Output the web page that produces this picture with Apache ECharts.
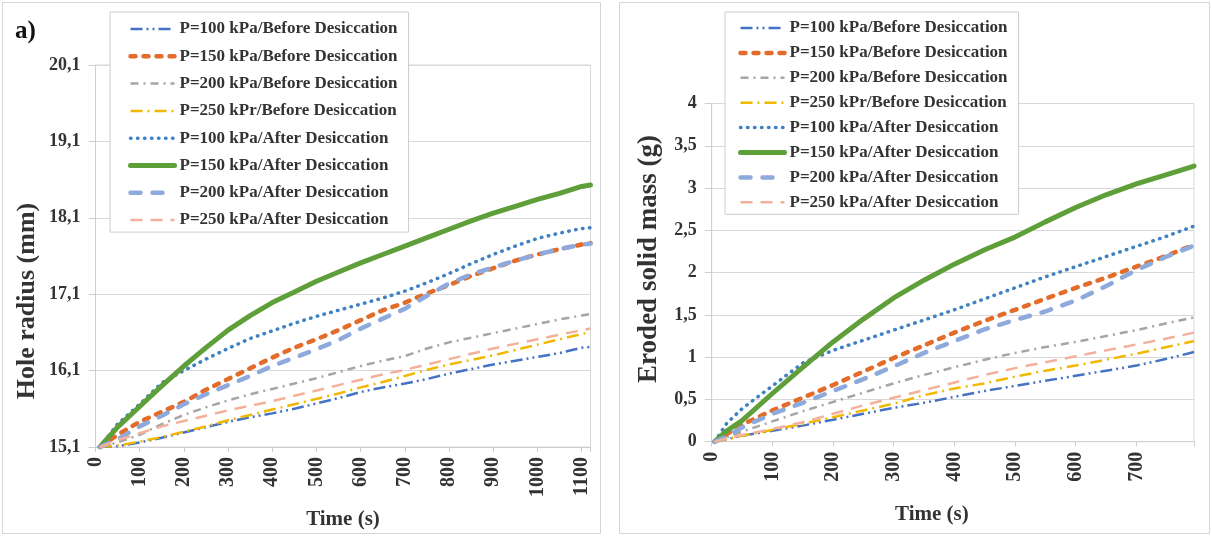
<!DOCTYPE html>
<html>
<head>
<meta charset="utf-8">
<script src="https://cdn.jsdelivr.net/npm/echarts@6/dist/echarts.min.js"></script>
<style>
  html, body { margin: 0; padding: 0; background: #fff; }
  #wrap { position: relative; width: 1212px; height: 536px; }
  #radiusChart { position: absolute; left: 0; top: 0; width: 606px; height: 536px; }
  #massChart { position: absolute; left: 606px; top: 0; width: 606px; height: 536px; }
</style>
</head>
<body>
<div id="wrap">
  <div id="radiusChart"></div>
  <div id="massChart"></div>
</div>
<script>
// ---- Series names (shared by both panels) ----
const seriesNames = [
  'P=100 kPa/Before Desiccation',
  'P=150 kPa/Before Desiccation',
  'P=200 kPa/Before Desiccation',
  'P=250 kPr/Before Desiccation',
  'P=100 kPa/After Desiccation',
  'P=150 kPa/After Desiccation',
  'P=200 kPa/After Desiccation',
  'P=250 kPa/After Desiccation'
];

// ---- a) Hole radius (mm) versus time (s) ----
const radiusTime = [10, 50, 100, 150, 200, 250, 300, 350, 400, 450, 500, 550, 600, 650, 700, 750, 800, 850, 900, 950, 1000, 1050, 1100, 1120];
const radius100Before = [15.10, 15.11, 15.16, 15.22, 15.29, 15.36, 15.43, 15.49, 15.54, 15.60, 15.67, 15.74, 15.82, 15.88, 15.93, 15.99, 16.06, 16.12, 16.18, 16.23, 16.28, 16.33, 16.40, 16.41];
const radius150Before = [15.10, 15.26, 15.43, 15.56, 15.69, 15.85, 15.99, 16.13, 16.27, 16.40, 16.51, 16.63, 16.76, 16.89, 16.99, 17.11, 17.22, 17.34, 17.44, 17.54, 17.62, 17.69, 17.75, 17.77];
const radius200Before = [15.10, 15.16, 15.26, 15.40, 15.52, 15.62, 15.71, 15.79, 15.86, 15.93, 16.00, 16.08, 16.16, 16.23, 16.29, 16.39, 16.47, 16.53, 16.59, 16.65, 16.71, 16.77, 16.82, 16.84];
const radius250Before = [15.10, 15.12, 15.17, 15.23, 15.30, 15.37, 15.45, 15.52, 15.59, 15.66, 15.73, 15.80, 15.88, 15.95, 16.03, 16.11, 16.18, 16.24, 16.30, 16.37, 16.44, 16.51, 16.58, 16.60];
const radius100After  = [15.10, 15.40, 15.66, 15.94, 16.10, 16.25, 16.39, 16.52, 16.62, 16.72, 16.81, 16.89, 16.97, 17.05, 17.14, 17.25, 17.37, 17.50, 17.62, 17.73, 17.83, 17.90, 17.96, 17.97];
const radius150After  = [15.10, 15.36, 15.63, 15.90, 16.16, 16.40, 16.63, 16.82, 16.99, 17.13, 17.27, 17.39, 17.51, 17.62, 17.73, 17.84, 17.95, 18.06, 18.16, 18.25, 18.34, 18.42, 18.51, 18.53];
const radius200After  = [15.10, 15.20, 15.37, 15.51, 15.66, 15.79, 15.91, 16.03, 16.16, 16.27, 16.38, 16.50, 16.65, 16.78, 16.91, 17.08, 17.24, 17.36, 17.45, 17.54, 17.62, 17.69, 17.75, 17.76];
const radius250After  = [15.10, 15.19, 15.28, 15.37, 15.44, 15.51, 15.58, 15.64, 15.70, 15.77, 15.84, 15.91, 15.98, 16.05, 16.11, 16.18, 16.25, 16.32, 16.39, 16.45, 16.51, 16.57, 16.63, 16.65];

// ---- b) Eroded solid mass (g) versus time (s) ----
const massTime = [5, 25, 50, 100, 150, 200, 250, 300, 350, 400, 450, 500, 550, 600, 650, 700, 750, 795];
const mass100Before = [0, 0.03, 0.07, 0.13, 0.19, 0.26, 0.33, 0.40, 0.46, 0.53, 0.60, 0.66, 0.72, 0.78, 0.84, 0.90, 0.98, 1.06];
const mass150Before = [0, 0.09, 0.20, 0.37, 0.52, 0.67, 0.83, 0.99, 1.14, 1.29, 1.43, 1.56, 1.69, 1.82, 1.94, 2.07, 2.20, 2.33];
const mass200Before = [0, 0.05, 0.12, 0.24, 0.36, 0.47, 0.58, 0.69, 0.79, 0.88, 0.97, 1.05, 1.12, 1.18, 1.25, 1.32, 1.40, 1.47];
const mass250Before = [0, 0.03, 0.07, 0.14, 0.21, 0.29, 0.37, 0.45, 0.55, 0.63, 0.69, 0.77, 0.84, 0.90, 0.97, 1.04, 1.12, 1.19];
const mass100After  = [0, 0.22, 0.39, 0.66, 0.93, 1.08, 1.20, 1.32, 1.44, 1.56, 1.69, 1.82, 1.95, 2.07, 2.19, 2.31, 2.43, 2.55];
const mass150After  = [0, 0.13, 0.25, 0.57, 0.88, 1.18, 1.45, 1.70, 1.91, 2.10, 2.27, 2.42, 2.60, 2.77, 2.92, 3.05, 3.16, 3.26];
const mass200After  = [0, 0.06, 0.17, 0.33, 0.46, 0.60, 0.74, 0.89, 1.05, 1.19, 1.33, 1.44, 1.54, 1.67, 1.84, 2.03, 2.19, 2.32];
const mass250After  = [0, 0.04, 0.08, 0.15, 0.23, 0.33, 0.43, 0.52, 0.61, 0.70, 0.79, 0.87, 0.94, 1.01, 1.08, 1.15, 1.22, 1.29];

// ---- Axis ranges ----
const radiusAxisMin = 15.1, radiusAxisMax = 20.1, radiusAxisStep = 1;
const radiusTimeMax = 1120, massTimeMax = 795, timeStep = 100;
const massAxisMin = 0, massAxisMax = 4, massAxisStep = 0.5;

const radiusSets = [radius100Before, radius150Before, radius200Before, radius250Before,
                    radius100After, radius150After, radius200After, radius250After];
const massSets = [mass100Before, mass150Before, mass200Before, mass250Before,
                  mass100After, mass150After, mass200After, mass250After];

// ---- Line styles, one per series ----
const lineStyles = [
  { color: '#4472C4', width: 2.5, type: [12, 4, 2, 4, 2, 4], cap: 'butt' },
  { color: '#E36C2A', width: 4.5, type: [5, 8], cap: 'round' },
  { color: '#A5A5A5', width: 2.5, type: [8, 5, 2, 5], cap: 'butt' },
  { color: '#F2B800', width: 2.5, type: [12, 5, 2, 5], cap: 'butt' },
  { color: '#3E82C4', width: 3.5, type: [0.5, 6.5], cap: 'round' },
  { color: '#5E9F3A', width: 5, type: 'solid', cap: 'round' },
  { color: '#8EA9DB', width: 4.5, type: [10, 12], cap: 'round' },
  { color: '#F4B09A', width: 2.5, type: [12, 8], cap: 'butt' }
];

const FONT = "'Liberation Serif', 'Times New Roman', serif";
const TEXT = '#333333';
const AXIS_GREY = '#cfcfcf';
const GRID_GREY = '#d9d9d9';

function commaDecimal(v) {
  return String(Math.round(v * 10) / 10).replace('.', ',');
}

function buildSeries(times, sets) {
  return sets.map((vals, i) => ({
    name: seriesNames[i],
    type: 'line',
    symbol: 'none',
    showSymbol: false,
    animation: false,
    data: times.map((t, k) => [t, vals[k]]),
    itemStyle: { color: lineStyles[i].color },
    lineStyle: {
      color: lineStyles[i].color,
      width: lineStyles[i].width,
      type: lineStyles[i].type,
      cap: lineStyles[i].cap,
      join: 'round'
    }
  }));
}

function buildOption(cfg) {
  return {
    animation: false,
    backgroundColor: '#ffffff',
    grid: {
      left: cfg.grid.left, top: cfg.grid.top, width: cfg.grid.width, height: cfg.grid.height,
      show: true, borderColor: GRID_GREY, borderWidth: 1, backgroundColor: 'transparent'
    },
    legend: {
      orient: 'vertical',
      left: cfg.legend.left, top: cfg.legend.top,
      padding: cfg.legend.padding,
      itemGap: cfg.legend.itemGap,
      itemWidth: 44, itemHeight: 14,
      backgroundColor: '#ffffff',
      borderColor: '#cccccc', borderWidth: 1,
      selectedMode: false,
      data: seriesNames,
      // legend keys show only the line sample, no marker
      itemStyle: { color: 'rgba(0,0,0,0)', borderColor: 'rgba(0,0,0,0)', borderWidth: 0, opacity: 0 },
      lineStyle: { width: 'inherit' },
      textStyle: { fontFamily: FONT, fontWeight: 'bold', fontSize: 17, color: TEXT, lineHeight: 20 }
    },
    xAxis: {
      type: 'value',
      min: 0, max: cfg.xMax, interval: timeStep,
      name: 'Time (s)', nameLocation: 'middle', nameGap: 62,
      nameTextStyle: { fontFamily: FONT, fontWeight: 'bold', fontSize: 21, color: TEXT, padding: cfg.xNamePad },
      axisLine: { show: true, lineStyle: { color: AXIS_GREY } },
      axisTick: { show: true, length: 5, lineStyle: { color: AXIS_GREY } },
      splitLine: { show: false },
      axisLabel: {
        rotate: 90, margin: 10,
        fontFamily: FONT, fontWeight: 'bold', fontSize: 20, color: TEXT,
        formatter: v => (v % timeStep === 0 ? String(v) : '')
      }
    },
    yAxis: {
      type: 'value',
      min: cfg.yMin, max: cfg.yMax, interval: cfg.yStep,
      axisLine: { show: true, lineStyle: { color: AXIS_GREY } },
      axisTick: { show: true, length: 7, lineStyle: { color: AXIS_GREY } },
      splitLine: { show: true, lineStyle: { color: GRID_GREY } },
      axisLabel: {
        margin: 15,
        fontFamily: FONT, fontWeight: 'bold', fontSize: 18, color: TEXT,
        formatter: commaDecimal
      }
    },
    graphic: cfg.graphic,
    series: buildSeries(cfg.times, cfg.sets)
  };
}

const radiusChart = echarts.init(document.getElementById('radiusChart'), null, { renderer: 'canvas' });
radiusChart.setOption(buildOption({
  grid: { left: 95.5, top: 65, width: 495, height: 382 },
  legend: { left: 110, top: 12, padding: [7, 11, 2, 18], itemGap: 7.3 },
  xMax: radiusTimeMax, xNamePad: [0, 0, 0, 0],
  yMin: radiusAxisMin, yMax: radiusAxisMax, yStep: radiusAxisStep,
  times: radiusTime, sets: radiusSets,
  graphic: [
    { type: 'rect', shape: { x: 2.5, y: 2.5, width: 598, height: 531 },
      style: { fill: 'none', stroke: '#d6d6d6', lineWidth: 1 }, silent: true, z: -1 },
    { type: 'text', x: 15, y: 32,
      style: { text: 'a)', font: "bold 25px 'Liberation Serif', serif", fill: '#111', textVerticalAlign: 'middle', verticalAlign: 'middle' } },
    { type: 'text', x: 27, y: 301, rotation: Math.PI / 2,
      style: { text: 'Hole radius (mm)', font: "bold 26px 'Liberation Serif', serif", fill: TEXT,
               textAlign: 'center', align: 'center', textVerticalAlign: 'middle', verticalAlign: 'middle' } }
  ]
}));

const massChart = echarts.init(document.getElementById('massChart'), null, { renderer: 'canvas' });
massChart.setOption(buildOption({
  grid: { left: 105.7, top: 103.5, width: 482.3, height: 338.2 },
  legend: { left: 119, top: 12, padding: [6, 11, 2, 13], itemGap: 4.9 },
  xMax: massTimeMax, xNamePad: [0, 42, 0, 0],
  yMin: massAxisMin, yMax: massAxisMax, yStep: massAxisStep,
  times: massTime, sets: massSets,
  graphic: [
    { type: 'rect', shape: { x: 13.5, y: 2.5, width: 590, height: 531 },
      style: { fill: 'none', stroke: '#d6d6d6', lineWidth: 1 }, silent: true, z: -1 },
    { type: 'text', x: 43, y: 259, rotation: Math.PI / 2,
      style: { text: 'Eroded solid mass (g)', font: "bold 27px 'Liberation Serif', serif", fill: TEXT,
               textAlign: 'center', align: 'center', textVerticalAlign: 'middle', verticalAlign: 'middle' } }
  ]
}));
</script>
</body>
</html>
